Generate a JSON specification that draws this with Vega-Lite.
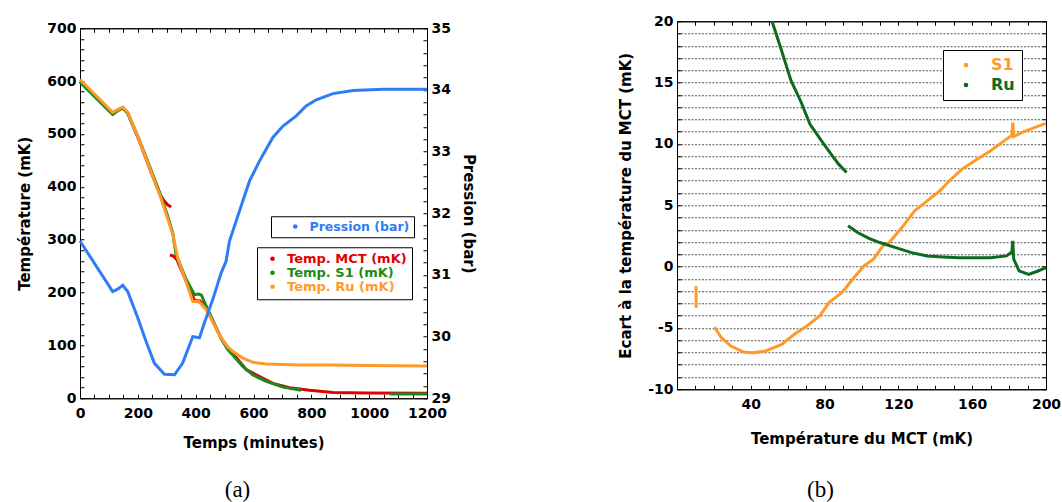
{
 "$schema": "https://vega.github.io/schema/vega-lite/v6.json",
 "padding": {"left": 17, "top": 13, "right": 0, "bottom": 0},
 "background": "white",
 "spacing": 142,
 "center": true,
 "config": {
  "font": "DejaVu Sans",
  "view": {"stroke": "black", "strokeWidth": 1},
  "axis": {"labelFont": "DejaVu Sans", "labelFontWeight": "bold", "labelFontSize": 14, "labelColor": "black", "titleFont": "DejaVu Sans", "titleFontWeight": "bold", "titleFontSize": 15, "titleColor": "black", "domainColor": "black", "tickColor": "black", "tickSize": -4, "grid": false, "labelPadding": 8, "labelFlush": false, "labelOverlap": false, "titlePadding": 14},
  "legend": {"labelFont": "DejaVu Sans", "labelFontWeight": "bold"}
 },
 "hconcat": [
  {
   "width": 347,
   "height": 370,
   "title": {"text": "(a)", "orient": "bottom", "font": "Liberation Serif", "fontSize": 23, "fontWeight": "normal", "offset": 29, "color": "black", "dx": -16},
   "layer": [
    {
     "data": {"values": [
      {"series": "Temp. MCT (mK)", "seg": "a", "t": 0, "T": 600}, {"series": "Temp. MCT (mK)", "seg": "a", "t": 113, "T": 539}, {"series": "Temp. MCT (mK)", "seg": "a", "t": 130, "T": 545}, {"series": "Temp. MCT (mK)", "seg": "a", "t": 148, "T": 550}, {"series": "Temp. MCT (mK)", "seg": "a", "t": 165, "T": 540}, {"series": "Temp. MCT (mK)", "seg": "a", "t": 205, "T": 487}, {"series": "Temp. MCT (mK)", "seg": "a", "t": 240, "T": 436}, {"series": "Temp. MCT (mK)", "seg": "a", "t": 275, "T": 387}, {"series": "Temp. MCT (mK)", "seg": "a", "t": 290, "T": 374}, {"series": "Temp. MCT (mK)", "seg": "a", "t": 303, "T": 366}, {"series": "Temp. MCT (mK)", "seg": "a", "t": 315, "T": 362},
      {"series": "Temp. MCT (mK)", "seg": "b", "t": 311, "T": 271}, {"series": "Temp. MCT (mK)", "seg": "b", "t": 323, "T": 269}, {"series": "Temp. MCT (mK)", "seg": "b", "t": 335, "T": 262}, {"series": "Temp. MCT (mK)", "seg": "b", "t": 367, "T": 222}, {"series": "Temp. MCT (mK)", "seg": "b", "t": 396, "T": 185}, {"series": "Temp. MCT (mK)", "seg": "b", "t": 415, "T": 184}, {"series": "Temp. MCT (mK)", "seg": "b", "t": 436, "T": 171}, {"series": "Temp. MCT (mK)", "seg": "b", "t": 459, "T": 146}, {"series": "Temp. MCT (mK)", "seg": "b", "t": 488, "T": 114}, {"series": "Temp. MCT (mK)", "seg": "b", "t": 511, "T": 96}, {"series": "Temp. MCT (mK)", "seg": "b", "t": 528, "T": 85}, {"series": "Temp. MCT (mK)", "seg": "b", "t": 575, "T": 54}, {"series": "Temp. MCT (mK)", "seg": "b", "t": 621, "T": 41}, {"series": "Temp. MCT (mK)", "seg": "b", "t": 667, "T": 28}, {"series": "Temp. MCT (mK)", "seg": "b", "t": 725, "T": 20}, {"series": "Temp. MCT (mK)", "seg": "b", "t": 794, "T": 15}, {"series": "Temp. MCT (mK)", "seg": "b", "t": 875, "T": 11}, {"series": "Temp. MCT (mK)", "seg": "b", "t": 990, "T": 10}, {"series": "Temp. MCT (mK)", "seg": "b", "t": 1200, "T": 9.5},
      {"series": "Temp. S1 (mK)", "seg": "a", "t": 0, "T": 598}, {"series": "Temp. S1 (mK)", "seg": "a", "t": 113, "T": 537}, {"series": "Temp. S1 (mK)", "seg": "a", "t": 130, "T": 544}, {"series": "Temp. S1 (mK)", "seg": "a", "t": 148, "T": 549}, {"series": "Temp. S1 (mK)", "seg": "a", "t": 165, "T": 539}, {"series": "Temp. S1 (mK)", "seg": "a", "t": 205, "T": 489}, {"series": "Temp. S1 (mK)", "seg": "a", "t": 240, "T": 440}, {"series": "Temp. S1 (mK)", "seg": "a", "t": 275, "T": 390}, {"series": "Temp. S1 (mK)", "seg": "a", "t": 303, "T": 345}, {"series": "Temp. S1 (mK)", "seg": "a", "t": 321, "T": 312}, {"series": "Temp. S1 (mK)", "seg": "a", "t": 332, "T": 272}, {"series": "Temp. S1 (mK)", "seg": "a", "t": 367, "T": 225}, {"series": "Temp. S1 (mK)", "seg": "a", "t": 396, "T": 196}, {"series": "Temp. S1 (mK)", "seg": "a", "t": 410, "T": 197}, {"series": "Temp. S1 (mK)", "seg": "a", "t": 420, "T": 195}, {"series": "Temp. S1 (mK)", "seg": "a", "t": 436, "T": 175}, {"series": "Temp. S1 (mK)", "seg": "a", "t": 459, "T": 148}, {"series": "Temp. S1 (mK)", "seg": "a", "t": 488, "T": 113}, {"series": "Temp. S1 (mK)", "seg": "a", "t": 511, "T": 92}, {"series": "Temp. S1 (mK)", "seg": "a", "t": 528, "T": 82}, {"series": "Temp. S1 (mK)", "seg": "a", "t": 563, "T": 60}, {"series": "Temp. S1 (mK)", "seg": "a", "t": 598, "T": 44}, {"series": "Temp. S1 (mK)", "seg": "a", "t": 644, "T": 32}, {"series": "Temp. S1 (mK)", "seg": "a", "t": 702, "T": 21}, {"series": "Temp. S1 (mK)", "seg": "a", "t": 765, "T": 15},
      {"series": "Temp. S1 (mK)", "seg": "b", "t": 1071, "T": 8}, {"series": "Temp. S1 (mK)", "seg": "b", "t": 1200, "T": 8},
      {"series": "Temp. Ru (mK)", "seg": "a", "t": 0, "T": 603}, {"series": "Temp. Ru (mK)", "seg": "a", "t": 113, "T": 541}, {"series": "Temp. Ru (mK)", "seg": "a", "t": 130, "T": 546}, {"series": "Temp. Ru (mK)", "seg": "a", "t": 148, "T": 551}, {"series": "Temp. Ru (mK)", "seg": "a", "t": 165, "T": 541}, {"series": "Temp. Ru (mK)", "seg": "a", "t": 205, "T": 488}, {"series": "Temp. Ru (mK)", "seg": "a", "t": 240, "T": 437}, {"series": "Temp. Ru (mK)", "seg": "a", "t": 275, "T": 386}, {"series": "Temp. Ru (mK)", "seg": "a", "t": 303, "T": 340}, {"series": "Temp. Ru (mK)", "seg": "a", "t": 321, "T": 310}, {"series": "Temp. Ru (mK)", "seg": "a", "t": 325, "T": 300}, {"series": "Temp. Ru (mK)", "seg": "a", "t": 338, "T": 265}, {"series": "Temp. Ru (mK)", "seg": "a", "t": 367, "T": 220}, {"series": "Temp. Ru (mK)", "seg": "a", "t": 390, "T": 183}, {"series": "Temp. Ru (mK)", "seg": "a", "t": 410, "T": 183}, {"series": "Temp. Ru (mK)", "seg": "a", "t": 420, "T": 178}, {"series": "Temp. Ru (mK)", "seg": "a", "t": 436, "T": 168}, {"series": "Temp. Ru (mK)", "seg": "a", "t": 459, "T": 145}, {"series": "Temp. Ru (mK)", "seg": "a", "t": 488, "T": 114}, {"series": "Temp. Ru (mK)", "seg": "a", "t": 511, "T": 97}, {"series": "Temp. Ru (mK)", "seg": "a", "t": 528, "T": 89}, {"series": "Temp. Ru (mK)", "seg": "a", "t": 563, "T": 76}, {"series": "Temp. Ru (mK)", "seg": "a", "t": 598, "T": 68}, {"series": "Temp. Ru (mK)", "seg": "a", "t": 644, "T": 65}, {"series": "Temp. Ru (mK)", "seg": "a", "t": 759, "T": 63}, {"series": "Temp. Ru (mK)", "seg": "a", "t": 875, "T": 63}, {"series": "Temp. Ru (mK)", "seg": "a", "t": 990, "T": 62}, {"series": "Temp. Ru (mK)", "seg": "a", "t": 1200, "T": 61}
     ]},
     "mark": {"type": "line", "strokeWidth": 3},
     "encoding": {
      "x": {"field": "t", "type": "quantitative", "scale": {"domain": [0, 1200]}, "axis": {"orient": "bottom", "title": "Temps (minutes)", "values": [0,50,100,150,200,250,300,350,400,450,500,550,600,650,700,750,800,850,900,950,1000,1050,1100,1150,1200], "labelExpr": "datum.value % 200 === 0 ? '' + datum.value : ''", "labelPadding": 12, "titlePadding": 15}},
      "y": {"field": "T", "type": "quantitative", "scale": {"domain": [0, 700]}, "axis": {"orient": "left", "title": "Température (mK)", "values": [0,20,40,60,80,100,120,140,160,180,200,220,240,260,280,300,320,340,360,380,400,420,440,460,480,500,520,540,560,580,600,620,640,660,680,700], "labelExpr": "datum.value % 100 === 0 ? '' + datum.value : ''"}},
      "color": {"field": "series", "type": "nominal", "scale": {"domain": ["Temp. MCT (mK)", "Temp. S1 (mK)", "Temp. Ru (mK)"], "range": ["#e00000", "#1b8a1b", "#ff9a2a"]},
       "legend": {"orient": "none", "legendX": 177, "legendY": 219, "title": null, "strokeColor": "black", "fillColor": "white", "padding": 5, "symbolType": "circle", "symbolSize": 10, "labelFontSize": 13, "rowPadding": 0, "labelOffset": 8, "symbolOffset": 4,
        "encode": {"labels": {"update": {"fill": {"signal": "datum.value === 'Temp. MCT (mK)' ? '#e00000' : datum.value === 'Temp. S1 (mK)' ? '#1b8a1b' : '#ff9a2a'"}}}, "symbols": {"update": {"fill": {"signal": "datum.value === 'Temp. MCT (mK)' ? '#e00000' : datum.value === 'Temp. S1 (mK)' ? '#1b8a1b' : '#ff9a2a'"}}}}}},
      "detail": {"field": "seg", "type": "nominal"}
     }
    },
    {
     "data": {"values": [
      {"series": "Pression (bar)", "t": 0, "P": 31.55}, {"series": "Pression (bar)", "t": 113, "P": 30.73}, {"series": "Pression (bar)", "t": 130, "P": 30.77}, {"series": "Pression (bar)", "t": 148, "P": 30.83}, {"series": "Pression (bar)", "t": 165, "P": 30.73}, {"series": "Pression (bar)", "t": 200, "P": 30.3}, {"series": "Pression (bar)", "t": 228, "P": 29.93}, {"series": "Pression (bar)", "t": 257, "P": 29.57}, {"series": "Pression (bar)", "t": 292, "P": 29.39}, {"series": "Pression (bar)", "t": 327, "P": 29.38}, {"series": "Pression (bar)", "t": 355, "P": 29.57}, {"series": "Pression (bar)", "t": 390, "P": 30.0}, {"series": "Pression (bar)", "t": 413, "P": 29.98}, {"series": "Pression (bar)", "t": 430, "P": 30.22}, {"series": "Pression (bar)", "t": 459, "P": 30.6}, {"series": "Pression (bar)", "t": 488, "P": 31.03}, {"series": "Pression (bar)", "t": 505, "P": 31.22}, {"series": "Pression (bar)", "t": 517, "P": 31.55}, {"series": "Pression (bar)", "t": 551, "P": 32.03}, {"series": "Pression (bar)", "t": 586, "P": 32.52}, {"series": "Pression (bar)", "t": 621, "P": 32.85}, {"series": "Pression (bar)", "t": 667, "P": 33.23}, {"series": "Pression (bar)", "t": 701, "P": 33.41}, {"series": "Pression (bar)", "t": 748, "P": 33.58}, {"series": "Pression (bar)", "t": 782, "P": 33.74}, {"series": "Pression (bar)", "t": 817, "P": 33.84}, {"series": "Pression (bar)", "t": 875, "P": 33.94}, {"series": "Pression (bar)", "t": 944, "P": 33.99}, {"series": "Pression (bar)", "t": 1048, "P": 34.01}, {"series": "Pression (bar)", "t": 1200, "P": 34.01}
     ]},
     "mark": {"type": "line", "strokeWidth": 3},
     "encoding": {
      "x": {"field": "t", "type": "quantitative", "scale": {"domain": [0, 1200]}, "axis": {"orient": "top", "title": null, "labels": false, "values": [0,50,100,150,200,250,300,350,400,450,500,550,600,650,700,750,800,850,900,950,1000,1050,1100,1150,1200]}},
      "y": {"field": "P", "type": "quantitative", "scale": {"domain": [29, 35]}, "axis": {"orient": "right", "title": "Pression (bar)", "values": [29,29.2,29.4,29.6,29.8,30,30.2,30.4,30.6,30.8,31,31.2,31.4,31.6,31.8,32,32.2,32.4,32.6,32.8,33,33.2,33.4,33.6,33.8,34,34.2,34.4,34.6,34.8,35], "labelExpr": "abs(datum.value - round(datum.value)) < 0.001 ? '' + round(datum.value) : ''", "titleAngle": 90, "titlePadding": 10}},
      "color": {"field": "series", "type": "nominal", "scale": {"domain": ["Pression (bar)"], "range": ["#2f7df6"]},
       "legend": {"orient": "none", "legendX": 191, "legendY": 188, "title": null, "strokeColor": "black", "fillColor": "white", "padding": 4, "symbolType": "circle", "symbolSize": 10, "labelFontSize": 12.5, "labelOffset": 8, "symbolOffset": 14,
        "encode": {"labels": {"update": {"fill": {"value": "#2f7df6"}}}, "symbols": {"update": {"fill": {"value": "#2f7df6"}}}}}}
     }
    }
   ],
   "resolve": {"scale": {"y": "independent", "color": "independent"}, "axis": {"x": "independent"}}
  },
  {
   "width": 369,
   "height": 368,
   "title": {"text": "(b)", "subtitle": " ", "subtitleFontSize": 7, "subtitlePadding": 0, "orient": "bottom", "font": "Liberation Serif", "fontSize": 23, "fontWeight": "normal", "offset": 33, "color": "black", "dx": -41},
   "layer": [
    {
     "data": {"name": "dev", "values": [
      {"series": "S1", "seg": "a", "x": 10.3, "y": -1.6}, {"series": "S1", "seg": "a", "x": 10.4, "y": -3.35},
      {"series": "S1", "seg": "b", "x": 20.3, "y": -4.93}, {"series": "S1", "seg": "b", "x": 24.1, "y": -5.8}, {"series": "S1", "seg": "b", "x": 29.2, "y": -6.48}, {"series": "S1", "seg": "b", "x": 36.1, "y": -6.97}, {"series": "S1", "seg": "b", "x": 41.2, "y": -7.02}, {"series": "S1", "seg": "b", "x": 48.1, "y": -6.88}, {"series": "S1", "seg": "b", "x": 56.7, "y": -6.34}, {"series": "S1", "seg": "b", "x": 63.6, "y": -5.52}, {"series": "S1", "seg": "b", "x": 70.4, "y": -4.84}, {"series": "S1", "seg": "b", "x": 77.3, "y": -4.03}, {"series": "S1", "seg": "b", "x": 82.4, "y": -2.94}, {"series": "S1", "seg": "b", "x": 89.3, "y": -2.12}, {"series": "S1", "seg": "b", "x": 94.4, "y": -1.17}, {"series": "S1", "seg": "b", "x": 101.3, "y": 0.05}, {"series": "S1", "seg": "b", "x": 106.5, "y": 0.6}, {"series": "S1", "seg": "b", "x": 111.6, "y": 1.69}, {"series": "S1", "seg": "b", "x": 115, "y": 1.96}, {"series": "S1", "seg": "b", "x": 121.9, "y": 3.18}, {"series": "S1", "seg": "b", "x": 128.8, "y": 4.54}, {"series": "S1", "seg": "b", "x": 135.6, "y": 5.36}, {"series": "S1", "seg": "b", "x": 142.5, "y": 6.18}, {"series": "S1", "seg": "b", "x": 147.7, "y": 7.0}, {"series": "S1", "seg": "b", "x": 154.5, "y": 7.95}, {"series": "S1", "seg": "b", "x": 161.4, "y": 8.63}, {"series": "S1", "seg": "b", "x": 170, "y": 9.44}, {"series": "S1", "seg": "b", "x": 178.6, "y": 10.39}, {"series": "S1", "seg": "b", "x": 181.5, "y": 10.7}, {"series": "S1", "seg": "b", "x": 182, "y": 11.76}, {"series": "S1", "seg": "b", "x": 182.5, "y": 10.6}, {"series": "S1", "seg": "b", "x": 187.1, "y": 10.94}, {"series": "S1", "seg": "b", "x": 194, "y": 11.35}, {"series": "S1", "seg": "b", "x": 200, "y": 11.67},
      {"series": "Ru", "seg": "a", "x": 51.5, "y": 20}, {"series": "Ru", "seg": "a", "x": 56.7, "y": 17.6}, {"series": "Ru", "seg": "a", "x": 61.8, "y": 15.16}, {"series": "Ru", "seg": "a", "x": 67, "y": 13.5}, {"series": "Ru", "seg": "a", "x": 72.1, "y": 11.6}, {"series": "Ru", "seg": "a", "x": 79, "y": 10.1}, {"series": "Ru", "seg": "a", "x": 84.2, "y": 9.03}, {"series": "Ru", "seg": "a", "x": 87.6, "y": 8.35}, {"series": "Ru", "seg": "a", "x": 91.9, "y": 7.67},
      {"series": "Ru", "seg": "b", "x": 92.7, "y": 3.32}, {"series": "Ru", "seg": "b", "x": 97.9, "y": 2.78}, {"series": "Ru", "seg": "b", "x": 104, "y": 2.3}, {"series": "Ru", "seg": "b", "x": 109.9, "y": 1.96}, {"series": "Ru", "seg": "b", "x": 118.5, "y": 1.55}, {"series": "Ru", "seg": "b", "x": 127.1, "y": 1.14}, {"series": "Ru", "seg": "b", "x": 135.6, "y": 0.87}, {"series": "Ru", "seg": "b", "x": 144.2, "y": 0.79}, {"series": "Ru", "seg": "b", "x": 152.8, "y": 0.73}, {"series": "Ru", "seg": "b", "x": 161.4, "y": 0.73}, {"series": "Ru", "seg": "b", "x": 170, "y": 0.73}, {"series": "Ru", "seg": "b", "x": 178.6, "y": 0.87}, {"series": "Ru", "seg": "b", "x": 181.5, "y": 1.2}, {"series": "Ru", "seg": "b", "x": 182, "y": 2.1}, {"series": "Ru", "seg": "b", "x": 182.5, "y": 0.6}, {"series": "Ru", "seg": "b", "x": 185.4, "y": -0.35}, {"series": "Ru", "seg": "b", "x": 190.6, "y": -0.63}, {"series": "Ru", "seg": "b", "x": 195, "y": -0.4}, {"series": "Ru", "seg": "b", "x": 200, "y": -0.08}
     ]},
     "mark": {"type": "line", "strokeWidth": 3},
     "encoding": {
      "x": {"field": "x", "type": "quantitative", "scale": {"domain": [10, 200]}, "axis": {"orient": "bottom", "title": "Température du MCT (mK)", "values": [10,20,30,40,50,60,70,80,90,100,110,120,130,140,150,160,170,180,190,200], "labelExpr": "datum.value % 40 === 0 ? '' + datum.value : ''", "labelPadding": 12, "titlePadding": 20}},
      "y": {"field": "y", "type": "quantitative", "scale": {"domain": [-10, 20]}, "axis": {"orient": "left", "title": "Ecart à la température du MCT (mK)", "values": [-10,-9,-8,-7,-6,-5,-4,-3,-2,-1,0,1,2,3,4,5,6,7,8,9,10,11,12,13,14,15,16,17,18,19,20], "labelExpr": "datum.value % 5 === 0 ? '' + datum.value : ''", "grid": true, "gridColor": "#555555", "gridDash": [2, 1.5], "gridWidth": 1}},
      "color": {"field": "series", "type": "nominal", "scale": {"domain": ["S1", "Ru"], "range": ["#ff9a2a", "#0d6b1f"]},
       "legend": {"orient": "none", "legendX": 863, "legendY": 29, "title": null, "strokeColor": "black", "fillColor": "white", "padding": 7, "symbolType": "circle", "symbolSize": 10, "labelFontSize": 16, "labelOffset": 17, "symbolOffset": 8, "rowPadding": 4,
        "encode": {"labels": {"update": {"fill": {"signal": "datum.value === 'S1' ? '#ff9a2a' : '#0d6b1f'"}}}, "symbols": {"update": {"fill": {"signal": "datum.value === 'S1' ? '#ff9a2a' : '#0d6b1f'"}}}}}},
      "detail": {"field": "seg", "type": "nominal"}
     }
    },
    {
     "mark": {"type": "rule", "color": "black", "strokeWidth": 2},
     "encoding": {"y": {"datum": 0, "axis": null}}
    },
    {
     "data": {"name": "dev2", "values": [{"x": 10, "y": -10}, {"x": 200, "y": 20}]},
     "mark": {"type": "point", "opacity": 0},
     "encoding": {
      "x": {"field": "x", "type": "quantitative", "axis": {"orient": "top", "title": null, "labels": false, "values": [10,20,30,40,50,60,70,80,90,100,110,120,130,140,150,160,170,180,190,200]}},
      "y": {"field": "y", "type": "quantitative", "axis": {"orient": "right", "title": null, "labels": false, "values": [-10,-9,-8,-7,-6,-5,-4,-3,-2,-1,0,1,2,3,4,5,6,7,8,9,10,11,12,13,14,15,16,17,18,19,20]}}
     }
    }
   ],
   "resolve": {"axis": {"x": "independent", "y": "independent"}}
  }
 ]
}
